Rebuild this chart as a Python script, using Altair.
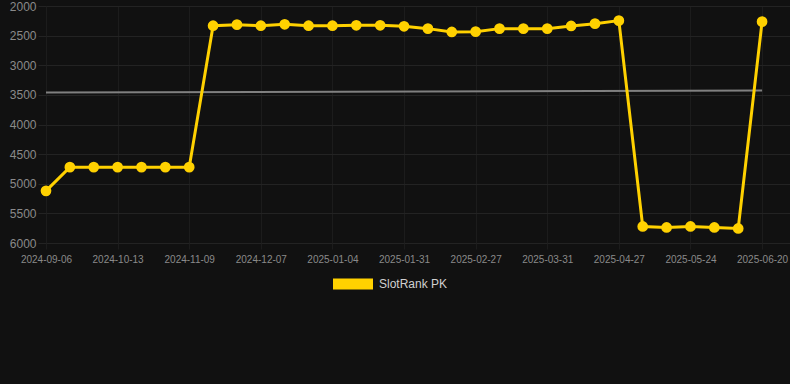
import altair as alt
import pandas as pd

# Category labels (dates) of the 31 snapshots; only every third is shown on the axis
dates = [
    "2024-09-06", "2024-09-18", "2024-10-01", "2024-10-13", "2024-10-22", "2024-10-31",
    "2024-11-09", "2024-11-18", "2024-11-28", "2024-12-07", "2024-12-16", "2024-12-26",
    "2025-01-04", "2025-01-13", "2025-01-22", "2025-01-31", "2025-02-09", "2025-02-18",
    "2025-02-27", "2025-03-10", "2025-03-21", "2025-03-31", "2025-04-09", "2025-04-18",
    "2025-04-27", "2025-05-06", "2025-05-15", "2025-05-24", "2025-06-02", "2025-06-11",
    "2025-06-20",
]
ranks = [
    5120, 4720, 4720, 4720, 4720, 4720, 4720, 2332, 2315, 2332, 2309, 2332,
    2332, 2326, 2326, 2343, 2382, 2438, 2433, 2382, 2382, 2382, 2337, 2298,
    2247, 5721, 5738, 5721, 5738, 5755, 2264,
]
trend_values = [3462, 3428]
y_ticks = [2000, 2500, 3000, 3500, 4000, 4500, 5000, 5500, 6000]
series_name = "SlotRank PK"

BG = "#111111"
YELLOW = "#FFD100"
GRID_H = "#232323"
GRID_V = "#1c1c1c"

df = pd.DataFrame({"idx": list(range(len(dates))), "date": dates, "rank": ranks,
                   "series": series_name})
trend = pd.DataFrame({"idx": [0, len(dates) - 1], "rank": trend_values})

tick_vals = list(range(0, len(dates), 3))
label_arr = "[" + ",".join("'" + dates[i] + "'" for i in tick_vals) + "]"

x_scale = alt.Scale(domain=[0, 31.17], nice=False, zero=False)
y_scale = alt.Scale(domain=[2000, 6000], reverse=True, nice=False, zero=False)

x_axis = alt.Axis(values=tick_vals, tickCount=40,
                  labelExpr=label_arr + "[round(datum.value/3)]",
                  title=None, grid=True, gridColor=GRID_V, domain=False,
                  tickColor=GRID_V, tickSize=6, labelPadding=5, labelFontSize=10,
                  labelColor="#8a8a8a", labelFont="Liberation Sans", labelFlush=False,
                  labelOverlap=False)
y_axis = alt.Axis(values=y_ticks, tickCount=20, format="d",
                  title=None, grid=True, gridColor=GRID_H, domain=False,
                  tickColor=GRID_H, tickSize=8, labelPadding=2, labelFontSize=12,
                  labelColor="#8a8a8a", labelFont="Liberation Sans",
                  labelOverlap=False, labelFlush=False)

legend = alt.Legend(title=None, orient="none", legendX=287, legendY=258,
                    symbolType="M-1,-0.275H1V0.275H-1Z",
                    symbolSize=1600, symbolStrokeWidth=0,
                    symbolFillColor=YELLOW, symbolOpacity=1,
                    labelFontSize=12, labelColor="#d0d0d0",
                    labelFont="Liberation Sans", labelOffset=6,
                    padding=0)
color = alt.Color("series:N", scale=alt.Scale(domain=[series_name], range=[YELLOW]),
                  legend=legend)

X = alt.X("idx:Q", scale=x_scale, axis=x_axis)
Y = alt.Y("rank:Q", scale=y_scale, axis=y_axis)

trend_line = alt.Chart(trend).mark_line(color="#808080", strokeWidth=2).encode(x=X, y=Y)

line = alt.Chart(df).mark_line(strokeWidth=3).encode(x=X, y=Y, color=color)

points = alt.Chart(df).mark_point(filled=True, opacity=1, size=115).encode(
    x=X, y=Y, color=color)

chart = alt.layer(trend_line, line, points).properties(
    width=744, height=237,
    padding={"left": 46, "top": 6, "right": 0, "bottom": 141},
    autosize=alt.AutoSizeParams(type="none"),
    background=BG,
).configure_view(stroke=None)

chart.save("out.html", embed_options={"renderer": "svg", "actions": False})
